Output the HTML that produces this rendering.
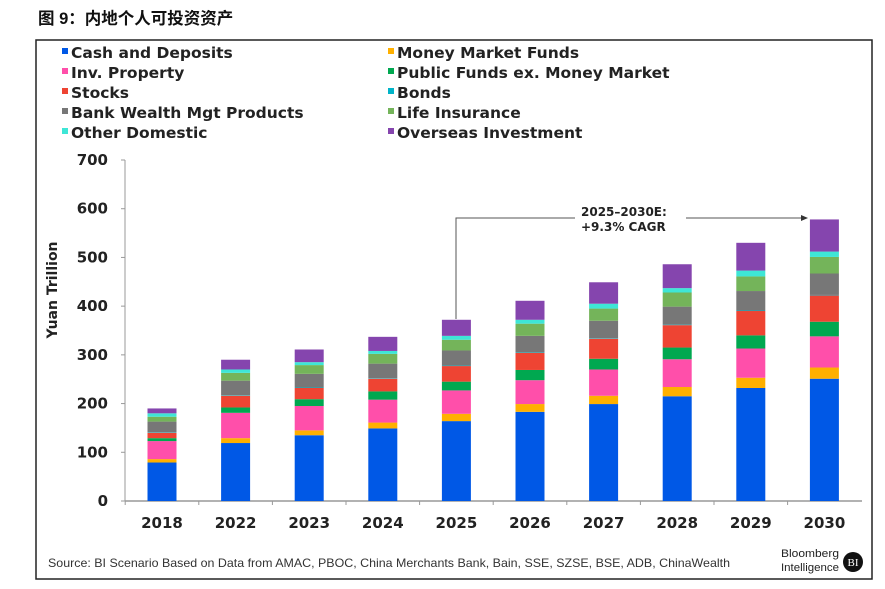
<!DOCTYPE html>
<html><head><meta charset="utf-8"><style>
body{margin:0;background:#fff;}
svg{display:block;}
</style></head><body>
<svg id="chart" width="885" height="589" xmlns="http://www.w3.org/2000/svg">
<text x="38" y="24" font-family="'Liberation Sans','Noto Sans CJK SC',sans-serif" font-size="16.5" font-weight="bold" fill="#111">图 9：内地个人可投资资产</text>
<rect x="36" y="40" width="836" height="539" fill="none" stroke="#222" stroke-width="1.5"/>
<g id="legend"></g>
<g id="axes"></g>
<g id="bars"></g>
<text x="57" y="290" transform="rotate(-90 57 290)" text-anchor="middle" font-family="'DejaVu Sans',sans-serif" font-weight="bold" font-size="14" fill="#222">Yuan Trillion</text>
<g>
<polyline points="456,319 456,218 575,218" fill="none" stroke="#555" stroke-width="1"/>
<line x1="686" y1="218" x2="803" y2="218" stroke="#555" stroke-width="1"/>
<polygon points="808,218 801,215 801,221" fill="#333"/>
<text x="581" y="216" font-family="'DejaVu Sans',sans-serif" font-weight="bold" font-size="12" fill="#222">2025–2030E:</text>
<text x="581" y="231" font-family="'DejaVu Sans',sans-serif" font-weight="bold" font-size="12" fill="#222">+9.3% CAGR</text>
</g>
<text x="48" y="567" textLength="682" lengthAdjust="spacingAndGlyphs" font-family="'Liberation Sans',sans-serif" font-size="12" fill="#333">Source: BI Scenario Based on Data from AMAC, PBOC, China Merchants Bank, Bain, SSE, SZSE, BSE, ADB, ChinaWealth</text>
<g>
<text x="781" y="557" textLength="58" lengthAdjust="spacingAndGlyphs" font-family="'Liberation Sans',sans-serif" font-size="11" fill="#222">Bloomberg</text>
<text x="781" y="571" textLength="58" lengthAdjust="spacingAndGlyphs" font-family="'Liberation Sans',sans-serif" font-size="11" fill="#222">Intelligence</text>
<circle cx="853" cy="562" r="10" fill="#111"/>
<text x="853" y="566" text-anchor="middle" font-family="'Liberation Serif',serif" font-size="11" fill="#fff">BI</text>
</g>
</svg>
<script>
const categories=["2018","2022","2023","2024","2025","2026","2027","2028","2029","2030"];
const seriesNames=["Cash and Deposits","Money Market Funds","Inv. Property","Public Funds ex. Money Market","Stocks","Bonds","Bank Wealth Mgt Products","Life Insurance","Other Domestic","Overseas Investment"];
const cash=[79,119,135,149,164,183,199,215,232,251];
const mmf=[7,10,10,12,15,16,17,19,21,23];
const property=[37,52,50,47,48,49,54,57,60,64];
const publicFunds=[6,11,14,17,18,21,22,24,27,30];
const stocks=[11,24,23,26,32,35,41,46,50,54];
const bonds=[1,1,1,1,1,1,1,1,1,1];
const wmp=[22,30,28,30,31,34,36,37,40,44];
const life=[10,16,18,20,22,25,25,29,30,34];
const otherDomestic=[7,7,6,6,8,8,10,9,12,11];
const overseas=[10,20,26,29,33,39,44,49,57,66];
const yTicks=[0,100,200,300,400,500,600,700];
const series=[cash,mmf,property,publicFunds,stocks,bonds,wmp,life,otherDomestic,overseas];
const colors=["#0058E6","#FFB000","#FF4FAA","#00A850","#EE4433","#00B4C8","#777777","#74B45A","#3EE6D6","#8545AE"];
const NS="http://www.w3.org/2000/svg";
const x0=125,x1=862,y0=501,yTop=160,yMax=700;
const y=v=>y0-(v/yMax)*(y0-yTop);
const step=73.6,firstC=162,bw=29;
const xc=i=>firstC+i*step;
function mk(tag,at,parent){const e=document.createElementNS(NS,tag);for(const k in at)e.setAttribute(k,at[k]);parent.appendChild(e);return e;}
const axes=document.getElementById('axes');
const yl=mk('line',{x1:x0,y1:yTop,x2:x0,y2:y0,stroke:'#999','stroke-width':1},axes);


const xl=mk('line',{x1:x0,y1:y0,x2:x1,y2:y0,stroke:'#999','stroke-width':1.5},axes);


yTicks.forEach(t=>{
  mk('line',{x1:x0-4,y1:y(t),x2:x0,y2:y(t),stroke:'#999'},axes);
  const tx=mk('text',{x:108,y:y(t)+5,'text-anchor':'end','font-family':"'DejaVu Sans',sans-serif",'font-weight':'bold','font-size':15,fill:'#222'},axes);
  tx.textContent=t;
  
  
});
categories.forEach((c,i)=>{
  mk('line',{x1:xc(i)-step/2,y1:y0,x2:xc(i)-step/2,y2:y0+4,stroke:'#999'},axes);
  const tx=mk('text',{x:xc(i),y:528,'text-anchor':'middle','font-family':"'DejaVu Sans',sans-serif",'font-weight':'bold','font-size':15,fill:'#222'},axes);
  tx.textContent=c;
  
  
});
const bars=document.getElementById('bars');
categories.forEach((c,i)=>{
  let acc=0;
  series.forEach((s,k)=>{
    const v=s[i];
    const r=mk('rect',{x:xc(i)-bw/2,y:y(acc+v),width:bw,height:y(acc)-y(acc+v),fill:colors[k]},bars);
    
    
    acc+=v;
  });
});
const legend=document.getElementById('legend');
seriesNames.forEach((n,k)=>{
  const col=k%2,row=Math.floor(k/2);
  const lx=col?388:62,ly=53+row*20;
  mk('rect',{x:lx,y:ly-5,width:6,height:6,fill:colors[k]},legend);
  const tx=mk('text',{x:lx+9,y:ly+5,'font-family':"'DejaVu Sans',sans-serif",'font-weight':'bold','font-size':15.5,fill:'#222'},legend);
  tx.textContent=n;
  
  
});
</script>
</body></html>
